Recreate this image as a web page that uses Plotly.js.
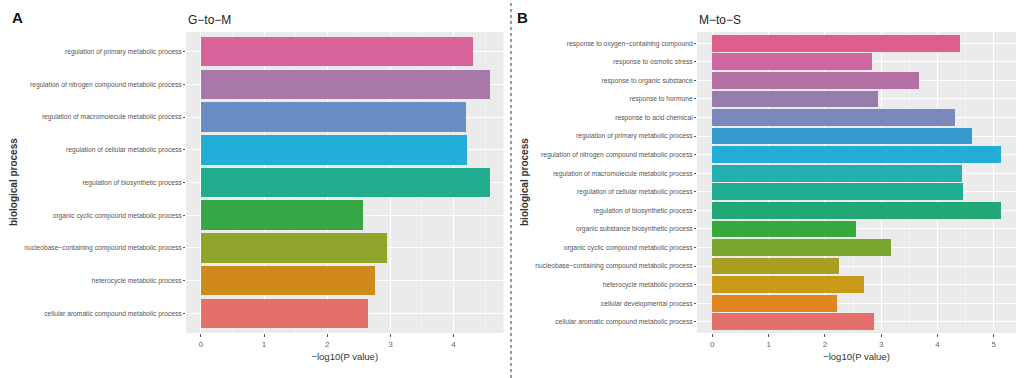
<!DOCTYPE html>
<html>
<head>
<meta charset="utf-8">
<script src="https://cdn.plot.ly/plotly-3.0.1.min.js"></script>
<style>html,body{margin:0;padding:0;background:#fff;}#chart{width:1024px;height:378px;}</style>
</head>
<body>
<div id="chart"></div>
<script>
// Panel A: G-to-M (top to bottom)
const gmTerms = [
  "regulation of primary metabolic process",
  "regulation of nitrogen compound metabolic process",
  "regulation of macromolecule metabolic process",
  "regulation of cellular metabolic process",
  "regulation of biosynthetic process",
  "organic cyclic compound metabolic process",
  "nucleobase\u2212containing compound metabolic process",
  "heterocycle metabolic process",
  "cellular aromatic compound metabolic process"
];
const gmValues = [4.30, 4.57, 4.20, 4.21, 4.57, 2.56, 2.95, 2.76, 2.64];
const gmColors = ["#D8629A","#A878A8","#6A8DC4","#22AED6","#23AD8F","#35A845","#8FA52B","#D08A1A","#E5706B"];

// Panel B: M-to-S (top to bottom)
const msTerms = [
  "response to oxygen\u2212containing compound",
  "response to osmotic stress",
  "response to organic substance",
  "response to hormone",
  "response to acid chemical",
  "regulation of primary metabolic process",
  "regulation of nitrogen compound metabolic process",
  "regulation of macromolecule metabolic process",
  "regulation of cellular metabolic process",
  "regulation of biosynthetic process",
  "organic substance biosynthetic process",
  "organic cyclic compound metabolic process",
  "nucleobase\u2212containing compound metabolic process",
  "heterocycle metabolic process",
  "cellular developmental process",
  "cellular aromatic compound metabolic process"
];
const msValues = [4.40, 2.83, 3.68, 2.95, 4.32, 4.61, 5.13, 4.43, 4.45, 5.13, 2.56, 3.17, 2.25, 2.70, 2.21, 2.88];
const msColors = ["#DE5E8E","#D066A0","#B46FA5","#977DAE","#7B88BC","#3799CC","#22ACD6","#24AFB0","#22AE94","#22A877","#35A83E","#78A630","#A89F22","#C99A18","#E08722","#E5706B"];

const xTickVals = [0, 1, 2, 3, 4, 5];
const xTitle = "\u2212log10(P value)";
const yTitle = "biological process";

const W = 1024, H = 378;
const px = v => v / W, py = v => 1 - v / H;

const labelFont = {family: "Liberation Sans, Arial, sans-serif", size: 6.7, color: "#555555"};
const tickFont = {family: "Liberation Sans, Arial, sans-serif", size: 8, color: "#666666"};
const titleFont = {family: "Liberation Sans, Arial, sans-serif", size: 9.5, color: "#333333"};

function xaxisCfg(domain, range, anchor) {
  return {
    domain: domain, range: range, anchor: anchor,
    tickvals: xTickVals, ticks: "outside", ticklen: 3, tickcolor: "#555",
    tickfont: tickFont, showgrid: true, gridcolor: "#FFFFFF", gridwidth: 1,
    minor: {dtick: 0.5, tick0: 0, showgrid: true, gridcolor: "#F7F7F7", gridwidth: 0.6},
    zeroline: false, showline: false, fixedrange: true,
    title: {text: xTitle, font: titleFont, standoff: 5}
  };
}
function yaxisCfg(domain, terms, anchor) {
  return {
    domain: domain, anchor: anchor,
    type: "category", categoryorder: "array", categoryarray: terms.slice().reverse(),
    range: [-0.6, terms.length - 0.4],
    ticks: "outside", ticklen: 2, tickcolor: "#555", tickfont: labelFont,
    showgrid: true, gridcolor: "#FFFFFF", gridwidth: 1,
    zeroline: false, showline: false, fixedrange: true
  };
}

const traces = [
  {type: "bar", orientation: "h", x: gmValues, y: gmTerms, xaxis: "x", yaxis: "y",
   width: 0.9, marker: {color: gmColors, line: {width: 0}}, hoverinfo: "x+y"},
  {type: "bar", orientation: "h", x: msValues, y: msTerms, xaxis: "x2", yaxis: "y2",
   width: 0.9, marker: {color: msColors, line: {width: 0}}, hoverinfo: "x+y"}
];

const yDom = [py(333), py(32)];
const layout = {
  width: W, height: H,
  margin: {l: 0, r: 0, t: 0, b: 0},
  paper_bgcolor: "#FFFFFF", plot_bgcolor: "#EBEBEB",
  showlegend: false, bargap: 0,
  xaxis: xaxisCfg([px(186), px(503.5)], [-0.235, 4.79], "y"),
  yaxis: yaxisCfg(yDom, gmTerms, "x"),
  xaxis2: xaxisCfg([px(697), px(1016)], [-0.272, 5.395], "y2"),
  yaxis2: yaxisCfg(yDom, msTerms, "x2"),
  shapes: [
    {type: "line", xref: "paper", yref: "paper", x0: px(511), x1: px(511), y0: 0, y1: 1,
     line: {color: "#333", width: 1, dash: "dot"}}
  ],
  annotations: [
    {text: "<b>A</b>", xref: "paper", yref: "paper", x: px(10), y: py(17), xanchor: "left", yanchor: "middle",
     showarrow: false, font: {family: "Liberation Sans, Arial, sans-serif", size: 15, color: "#111"}},
    {text: "<b>B</b>", xref: "paper", yref: "paper", x: px(515), y: py(17), xanchor: "left", yanchor: "middle",
     showarrow: false, font: {family: "Liberation Sans, Arial, sans-serif", size: 15, color: "#111"}},
    {text: "G\u2212to\u2212M", xref: "paper", yref: "paper", x: px(186), y: py(20), xanchor: "left", yanchor: "middle",
     showarrow: false, font: {family: "Liberation Sans, Arial, sans-serif", size: 12, color: "#222"}},
    {text: "M\u2212to\u2212S", xref: "paper", yref: "paper", x: px(697), y: py(20), xanchor: "left", yanchor: "middle",
     showarrow: false, font: {family: "Liberation Sans, Arial, sans-serif", size: 12, color: "#222"}},
    {text: "<b>" + yTitle + "</b>", xref: "paper", yref: "paper", x: px(14), y: py(182), xanchor: "center", yanchor: "middle",
     textangle: -90, showarrow: false, font: {family: "Liberation Sans, Arial, sans-serif", size: 10, color: "#333"}},
    {text: "<b>" + yTitle + "</b>", xref: "paper", yref: "paper", x: px(525), y: py(182), xanchor: "center", yanchor: "middle",
     textangle: -90, showarrow: false, font: {family: "Liberation Sans, Arial, sans-serif", size: 10, color: "#333"}}
  ]
};

Plotly.newPlot("chart", traces, layout, {displayModeBar: false, staticPlot: true});
</script>
</body>
</html>
